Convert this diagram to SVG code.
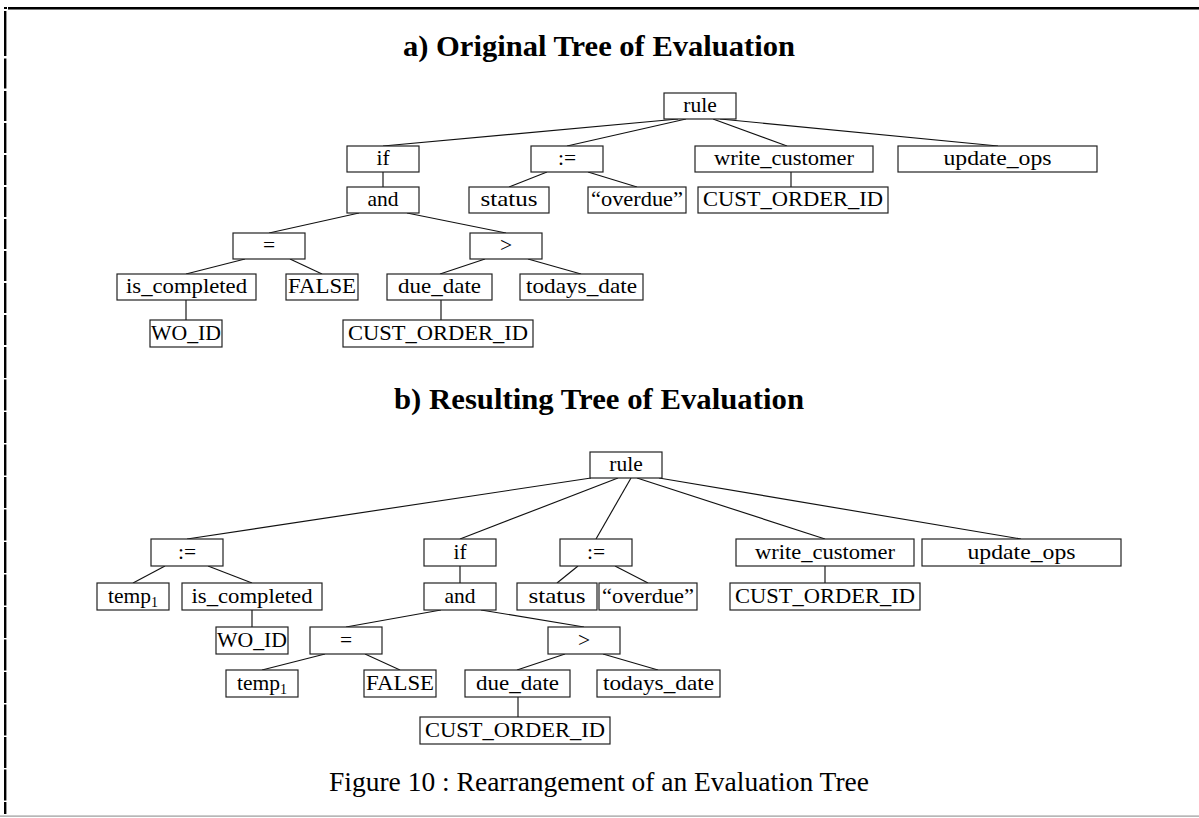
<svg xmlns="http://www.w3.org/2000/svg" width="1199" height="818" viewBox="0 0 1199 818">
  <style>
    .box { fill: #ffffff; stroke: #222222; stroke-width: 1.2; }
    .lbl { font-family: "Liberation Serif", "Times New Roman", serif; font-size: 21.5px; fill: #000000; text-anchor: middle; }
    .sub { font-size: 14px; }
    .edge { stroke: #111111; stroke-width: 1.15; fill: none; }
    .title { font-family: "Liberation Serif", "Times New Roman", serif; font-size: 30px; font-weight: bold; fill: #000000; }
    .caption { font-family: "Liberation Serif", "Times New Roman", serif; font-size: 27px; fill: #000000; }
  </style>

  <rect x="0" y="0" width="1199" height="818" fill="#ffffff"/>

  <!-- page frame -->
  <g id="frame">
    <rect x="4" y="7" width="3" height="2" fill="#000000"/>
    <rect x="8" y="7" width="1191" height="2" fill="#000000"/>
    <rect x="8" y="9" width="1191" height="1" fill="#777777"/>
    <line x1="5.2" y1="11" x2="5.2" y2="814" stroke="#000000" stroke-width="2.4" stroke-dasharray="45 2.5 30 2.5 30 2 30 2 30 2 30 2 30 2 30 2 30 2 30 2 31 1.5 31 1.5 31 1.5 31 1.5 31 1.5 31 1.5 31 1.5 31 1.5 31 1.5 31 1.5 31 1.5 31 1.5 31 1.5 31 1.5"/>
    <rect x="0" y="815.5" width="1199" height="1.2" fill="#999999"/>
  </g>

  <text class="title" x="599" y="56" text-anchor="middle" textLength="392" lengthAdjust="spacingAndGlyphs">a) Original Tree of Evaluation</text>
  <text class="title" x="599" y="409" text-anchor="middle" textLength="410" lengthAdjust="spacingAndGlyphs">b) Resulting Tree of Evaluation</text>

  <!-- connectors -->
  <g id="connectors">
    <!-- tree a -->
    <line class="edge" x1="678" y1="119" x2="383" y2="146"/>
    <line class="edge" x1="686" y1="119" x2="567" y2="146"/>
    <line class="edge" x1="713" y1="119" x2="787" y2="146"/>
    <line class="edge" x1="720" y1="119" x2="998" y2="146"/>
    <line class="edge" x1="383" y1="172" x2="383" y2="187"/>
    <line class="edge" x1="547" y1="172" x2="509" y2="187"/>
    <line class="edge" x1="588" y1="172" x2="637" y2="187"/>
    <line class="edge" x1="791" y1="172" x2="791" y2="187"/>
    <line class="edge" x1="359" y1="213" x2="269" y2="233"/>
    <line class="edge" x1="407" y1="213" x2="506" y2="233"/>
    <line class="edge" x1="245" y1="259" x2="186" y2="274"/>
    <line class="edge" x1="290" y1="259" x2="322" y2="274"/>
    <line class="edge" x1="485" y1="259" x2="440" y2="274"/>
    <line class="edge" x1="528" y1="259" x2="581" y2="274"/>
    <line class="edge" x1="186" y1="300" x2="186" y2="320"/>
    <line class="edge" x1="441" y1="300" x2="441" y2="320"/>
    <!-- tree b -->
    <line class="edge" x1="591" y1="478" x2="187" y2="539"/>
    <line class="edge" x1="618" y1="478" x2="460" y2="539"/>
    <line class="edge" x1="631" y1="478" x2="596" y2="539"/>
    <line class="edge" x1="637" y1="478" x2="825" y2="539"/>
    <line class="edge" x1="659" y1="478" x2="1021" y2="539"/>
    <line class="edge" x1="165" y1="566" x2="133" y2="583"/>
    <line class="edge" x1="208" y1="566" x2="252" y2="583"/>
    <line class="edge" x1="460" y1="566" x2="460" y2="583"/>
    <line class="edge" x1="578" y1="566" x2="557" y2="583"/>
    <line class="edge" x1="615" y1="566" x2="648" y2="583"/>
    <line class="edge" x1="825" y1="566" x2="825" y2="583"/>
    <line class="edge" x1="252" y1="610" x2="252" y2="627"/>
    <line class="edge" x1="441" y1="610" x2="346" y2="627"/>
    <line class="edge" x1="481" y1="610" x2="584" y2="627"/>
    <line class="edge" x1="325" y1="654" x2="262" y2="670"/>
    <line class="edge" x1="365" y1="654" x2="400" y2="670"/>
    <line class="edge" x1="565" y1="654" x2="517" y2="670"/>
    <line class="edge" x1="603" y1="654" x2="658" y2="670"/>
    <line class="edge" x1="518" y1="697" x2="518" y2="717"/>
  </g>

  <!-- tree a nodes -->
  <g id="a-rule"><rect class="box" x="664" y="93" width="72" height="26"/><text class="lbl" x="700" y="112">rule</text></g>
  <g id="a-if"><rect class="box" x="347" y="146" width="72" height="26"/><text class="lbl" x="383" y="165">if</text></g>
  <g id="a-assign"><rect class="box" x="531" y="146" width="72" height="26"/><text class="lbl" x="567" y="165">:=</text></g>
  <g id="a-write-customer"><rect class="box" x="695" y="146" width="178" height="26"/><text class="lbl" x="784" y="165" textLength="140" lengthAdjust="spacingAndGlyphs">write_customer</text></g>
  <g id="a-update-ops"><rect class="box" x="898" y="146" width="199" height="26"/><text class="lbl" x="997.5" y="165" textLength="108" lengthAdjust="spacingAndGlyphs">update_ops</text></g>
  <g id="a-and"><rect class="box" x="347" y="187" width="72" height="26"/><text class="lbl" x="383" y="206">and</text></g>
  <g id="a-status"><rect class="box" x="469" y="187" width="80" height="26"/><text class="lbl" x="509" y="206" textLength="57" lengthAdjust="spacingAndGlyphs">status</text></g>
  <g id="a-overdue"><rect class="box" x="588" y="187" width="98" height="26"/><text class="lbl" x="637" y="206" textLength="92" lengthAdjust="spacingAndGlyphs">“overdue”</text></g>
  <g id="a-cust-order-id-1"><rect class="box" x="698" y="187" width="190" height="26"/><text class="lbl" x="793" y="206" textLength="180" lengthAdjust="spacingAndGlyphs">CUST_ORDER_ID</text></g>
  <g id="a-eq"><rect class="box" x="233" y="233" width="72" height="26"/><text class="lbl" x="269" y="252">=</text></g>
  <g id="a-gt"><rect class="box" x="470" y="233" width="72" height="26"/><text class="lbl" x="506" y="252">&gt;</text></g>
  <g id="a-is-completed"><rect class="box" x="117" y="274" width="139" height="26"/><text class="lbl" x="186.5" y="293" textLength="121" lengthAdjust="spacingAndGlyphs">is_completed</text></g>
  <g id="a-false"><rect class="box" x="286" y="274" width="72" height="26"/><text class="lbl" x="322" y="293" textLength="68" lengthAdjust="spacingAndGlyphs">FALSE</text></g>
  <g id="a-due-date"><rect class="box" x="387" y="274" width="105" height="26"/><text class="lbl" x="439.5" y="293" textLength="83" lengthAdjust="spacingAndGlyphs">due_date</text></g>
  <g id="a-todays-date"><rect class="box" x="520" y="274" width="123" height="26"/><text class="lbl" x="581.5" y="293" textLength="111" lengthAdjust="spacingAndGlyphs">todays_date</text></g>
  <g id="a-wo-id"><rect class="box" x="150" y="320" width="72" height="27"/><text class="lbl" x="186" y="340" textLength="70" lengthAdjust="spacingAndGlyphs">WO_ID</text></g>
  <g id="a-cust-order-id-2"><rect class="box" x="343" y="320" width="190" height="27"/><text class="lbl" x="438" y="340" textLength="180" lengthAdjust="spacingAndGlyphs">CUST_ORDER_ID</text></g>

  <!-- tree b nodes -->
  <g id="b-rule"><rect class="box" x="590" y="452" width="72" height="26"/><text class="lbl" x="626" y="471">rule</text></g>
  <g id="b-assign-temp"><rect class="box" x="151" y="539" width="72" height="27"/><text class="lbl" x="187" y="559">:=</text></g>
  <g id="b-if"><rect class="box" x="424" y="539" width="72" height="27"/><text class="lbl" x="460" y="559">if</text></g>
  <g id="b-assign"><rect class="box" x="560" y="539" width="72" height="27"/><text class="lbl" x="596" y="559">:=</text></g>
  <g id="b-write-customer"><rect class="box" x="736" y="539" width="178" height="27"/><text class="lbl" x="825" y="559" textLength="140" lengthAdjust="spacingAndGlyphs">write_customer</text></g>
  <g id="b-update-ops"><rect class="box" x="922" y="539" width="199" height="27"/><text class="lbl" x="1021.5" y="559" textLength="108" lengthAdjust="spacingAndGlyphs">update_ops</text></g>
  <g id="b-temp1-a"><rect class="box" x="97" y="583" width="72" height="27"/><text class="lbl" x="133" y="603"><tspan>temp</tspan><tspan class="sub" dy="4">1</tspan></text></g>
  <g id="b-is-completed"><rect class="box" x="182" y="583" width="140" height="27"/><text class="lbl" x="252" y="603" textLength="121" lengthAdjust="spacingAndGlyphs">is_completed</text></g>
  <g id="b-and"><rect class="box" x="424" y="583" width="72" height="27"/><text class="lbl" x="460" y="603">and</text></g>
  <g id="b-status"><rect class="box" x="517" y="583" width="80" height="27"/><text class="lbl" x="557" y="603" textLength="57" lengthAdjust="spacingAndGlyphs">status</text></g>
  <g id="b-overdue"><rect class="box" x="599" y="583" width="98" height="27"/><text class="lbl" x="648" y="603" textLength="92" lengthAdjust="spacingAndGlyphs">“overdue”</text></g>
  <g id="b-cust-order-id-1"><rect class="box" x="730" y="583" width="190" height="27"/><text class="lbl" x="825" y="603" textLength="180" lengthAdjust="spacingAndGlyphs">CUST_ORDER_ID</text></g>
  <g id="b-wo-id"><rect class="box" x="216" y="627" width="72" height="27"/><text class="lbl" x="252" y="647" textLength="70" lengthAdjust="spacingAndGlyphs">WO_ID</text></g>
  <g id="b-eq"><rect class="box" x="310" y="627" width="72" height="27"/><text class="lbl" x="346" y="647">=</text></g>
  <g id="b-gt"><rect class="box" x="548" y="627" width="72" height="27"/><text class="lbl" x="584" y="647">&gt;</text></g>
  <g id="b-temp1-b"><rect class="box" x="226" y="670" width="72" height="27"/><text class="lbl" x="262" y="690"><tspan>temp</tspan><tspan class="sub" dy="4">1</tspan></text></g>
  <g id="b-false"><rect class="box" x="364" y="670" width="72" height="27"/><text class="lbl" x="400" y="690" textLength="68" lengthAdjust="spacingAndGlyphs">FALSE</text></g>
  <g id="b-due-date"><rect class="box" x="465" y="670" width="105" height="27"/><text class="lbl" x="517.5" y="690" textLength="83" lengthAdjust="spacingAndGlyphs">due_date</text></g>
  <g id="b-todays-date"><rect class="box" x="597" y="670" width="123" height="27"/><text class="lbl" x="658.5" y="690" textLength="111" lengthAdjust="spacingAndGlyphs">todays_date</text></g>
  <g id="b-cust-order-id-2"><rect class="box" x="420" y="717" width="190" height="27"/><text class="lbl" x="515" y="737" textLength="180" lengthAdjust="spacingAndGlyphs">CUST_ORDER_ID</text></g>

  <text class="caption" x="599" y="791" text-anchor="middle" textLength="540" lengthAdjust="spacingAndGlyphs">Figure 10 : Rearrangement of an Evaluation Tree</text>
</svg>
